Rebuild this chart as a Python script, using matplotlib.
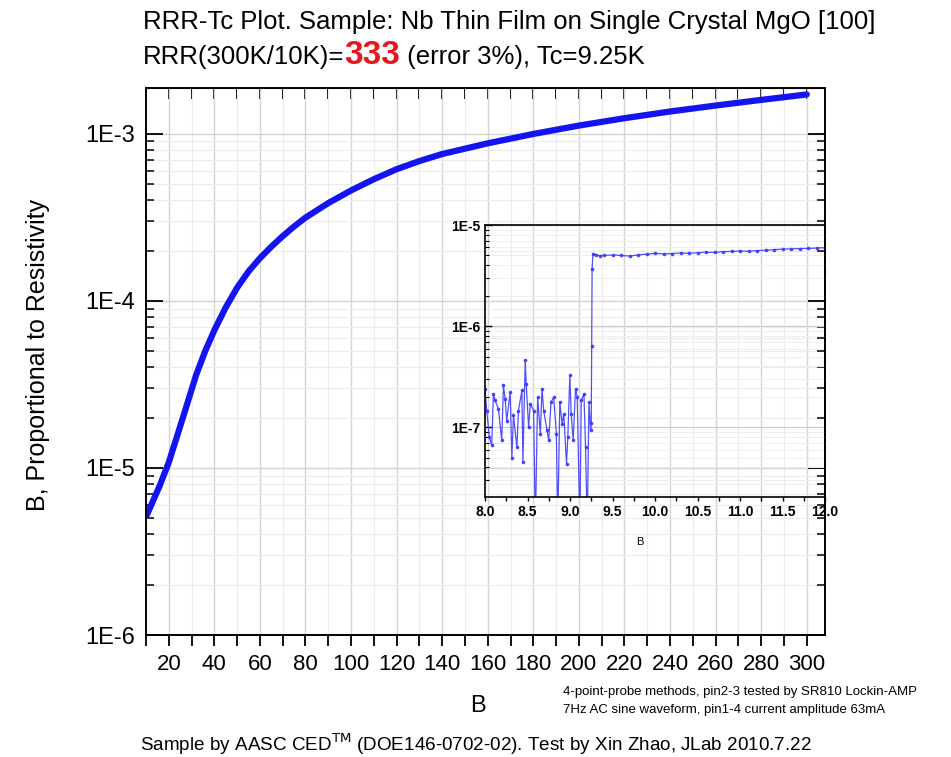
import matplotlib
matplotlib.use("Agg")
import math
import matplotlib.pyplot as plt
from matplotlib.ticker import LogLocator, MultipleLocator, FuncFormatter, NullFormatter

plt.rcParams['font.family'] = ['Liberation Sans', 'DejaVu Sans']

# main curve: temperature (K) vs signal
temp_main = [10.3, 15.9, 20, 26, 32, 36, 40, 45, 50, 55, 60, 65, 70, 75, 80, 90, 100,
             110, 120, 130, 140, 160, 180, 200, 220, 240, 260, 280, 300]
rho_main = [5.2e-6, 7.76e-6, 1.08e-5, 1.96e-5, 3.6e-5, 5.01e-5, 6.67e-5, 9.14e-5,
            1.2e-4, 1.5e-4, 1.8e-4, 2.11e-4, 2.44e-4, 2.79e-4, 3.15e-4, 3.85e-4,
            4.58e-4, 5.35e-4, 6.14e-4, 6.87e-4, 7.57e-4, 8.77e-4, 9.98e-4, 1.12e-3,
            1.24e-3, 1.36e-3, 1.476e-3, 1.596e-3, 1.72e-3]
x_ticks = [20, 40, 60, 80, 100, 120, 140, 160, 180, 200, 220, 240, 260, 280, 300]

# inset: transition region
temp_ins = [8.000, 8.020, 8.051, 8.079, 8.099, 8.118, 8.158, 8.197, 8.217, 8.237,
            8.256, 8.296, 8.316, 8.335, 8.375, 8.394, 8.434, 8.446, 8.473, 8.485,
            8.513, 8.533, 8.572, 8.592, 8.619, 8.651, 8.671, 8.690, 8.730, 8.749,
            8.777, 8.808, 8.840, 8.856, 8.880, 8.907, 8.927, 8.959, 8.974, 8.998,
            9.014, 9.037, 9.065, 9.085, 9.116, 9.132, 9.164, 9.183, 9.203, 9.223,
            9.243, 9.250, 9.255, 9.260, 9.270, 9.30, 9.35, 9.40, 9.50, 9.60,
            9.70, 9.80, 9.90, 10.0, 10.1, 10.2, 10.3, 10.4, 10.5, 10.6,
            10.7, 10.8, 10.9, 11.0, 11.1, 11.2, 11.3, 11.4, 11.5, 11.6,
            11.7, 11.8, 11.9, 12.0]
rho_ins = [2.40e-7, 1.46e-7, 7.96e-8, 6.6e-8, 2.14e-7, 1.84e-7, 1.52e-7, 7.4e-8, 2.59e-7, 1.91e-7,
           1.16e-7, 2.22e-7, 5.0e-8, 1.31e-7, 6.3e-8, 1.46e-7, 2.31e-7, 4.5e-8, 4.57e-7, 2.69e-7,
           1.0e-7, 1.71e-7, 1.46e-7, 1.0e-8, 1.98e-7, 8.6e-8, 2.40e-7, 1.46e-7, 9.3e-8, 7.4e-8,
           1.77e-7, 1.98e-7, 8.6e-8, 1.0e-8, 1.77e-7, 1.08e-7, 1.36e-7, 4.3e-8, 7.96e-8, 3.25e-7,
           1.36e-7, 7.4e-8, 2.40e-7, 1.98e-7, 1.0e-8, 1.84e-7, 2.14e-7, 6.3e-8, 1.0e-8, 1.77e-7,
           9.3e-8, 1.1e-7, 6.3e-7, 3.7e-6, 5.2e-6, 5.1e-6, 4.97e-6, 5.0e-6, 5.05e-6, 5.0e-6,
           4.93e-6, 5.05e-6, 5.15e-6, 5.24e-6, 5.18e-6, 5.22e-6, 5.28e-6, 5.25e-6, 5.32e-6, 5.38e-6,
           5.35e-6, 5.45e-6, 5.48e-6, 5.53e-6, 5.5e-6, 5.58e-6, 5.62e-6, 5.7e-6, 5.78e-6, 5.8e-6,
           5.85e-6, 5.86e-6, 5.92e-6, 5.96e-6]

W, H = 951, 757
fig = plt.figure(figsize=(W / 100, H / 100), dpi=100)


def box(l, t, r, b):
    return [l / W, 1 - b / H, (r - l) / W, (b - t) / H]


def sci(v, pos):
    return "1E%d" % round(math.log10(v))


ax = fig.add_axes(box(146, 88, 825, 635))
ax.plot(temp_main, rho_main, color='#1414f0', lw=4.5, solid_capstyle='round',
        solid_joinstyle='round')
ax.set_yscale('log')
ax.set_xlim(10, 308)
ax.set_ylim(1e-6, 1.88e-3)
ax.set_xticks(x_ticks)
ax.xaxis.set_minor_locator(MultipleLocator(10))
ax.yaxis.set_major_locator(LogLocator(base=10))
ax.yaxis.set_minor_locator(LogLocator(base=10, subs=range(2, 10)))
ax.yaxis.set_major_formatter(FuncFormatter(sci))
ax.yaxis.set_minor_formatter(NullFormatter())
ax.tick_params(axis='x', which='both', direction='out', length=8, width=1.3,
               labelsize=16, pad=6)
ax.tick_params(axis='y', which='major', direction='in', length=12, width=1.3,
               right=True, labelsize=17, pad=8)
ax.tick_params(axis='y', which='minor', direction='in', length=6, width=1.1, right=True)
ax.grid(True, which='major', color='#d4d4d4', lw=1.0)
ax.grid(True, which='minor', color='#ececec', lw=0.8)
for s in ax.spines.values():
    s.set_linewidth(1.4)
top = ax.secondary_xaxis('top')
top.set_xticks(x_ticks)
top.xaxis.set_minor_locator(MultipleLocator(10))
top.tick_params(which='both', direction='in', length=8, width=1.3, labeltop=False)
ax.set_xlabel("B", fontsize=17)
ax.xaxis.set_label_coords((478 - 146) / 679, (635 - 695) / 547)
ax.set_ylabel("B, Proportional to Resistivity", fontsize=18)
ax.yaxis.set_label_coords((50 - 146) / 679, (635 - 355) / 547)

# inset
ins = fig.add_axes(box(485, 225, 825, 497))
ins.set_facecolor('none')
ins.plot(temp_ins, rho_ins, color='#3c3cff', lw=0.9, marker='o', ms=1.6, alpha=0.9)
ins.set_yscale('log')
ins.set_xlim(8.0, 12.0)
ins.set_ylim(2.04e-8, 1e-5)
ins.xaxis.set_major_locator(MultipleLocator(0.5))
ins.xaxis.set_minor_locator(MultipleLocator(0.25))
ins.xaxis.set_major_formatter(FuncFormatter(lambda v, p: "%.1f" % v))
ins.yaxis.set_major_locator(LogLocator(base=10))
ins.yaxis.set_minor_locator(LogLocator(base=10, subs=range(2, 10)))
ins.yaxis.set_major_formatter(FuncFormatter(sci))
ins.yaxis.set_minor_formatter(NullFormatter())
ins.tick_params(axis='x', which='both', direction='out', length=3, width=1.0, pad=3)
ins.tick_params(axis='y', which='major', direction='in', length=5, width=1.0)
ins.tick_params(axis='y', which='minor', direction='in', length=3, width=0.8)
for lab in ins.get_xticklabels() + ins.get_yticklabels():
    lab.set_fontsize(10)
    lab.set_fontweight('bold')
ins.grid(True, which='major', axis='y', color='#cfcfcf', lw=0.9)
ins.grid(True, which='minor', axis='y', color='#eeeeee', lw=0.7)
for s in ins.spines.values():
    s.set_linewidth(1.2)
ins.set_xlabel("B", fontsize=8)
ins.xaxis.set_label_coords((640 - 485) / 340, (497 - 537) / 272)

# titles
fig.text(143 / W, 1 - 22 / H, "RRR-Tc Plot. Sample: Nb Thin Film on Single Crystal MgO [100]",
         fontsize=18.5, ha='left', va='center')
yb = 1 - 64 / H
t1 = fig.text(143 / W, yb, "RRR(300K/10K)=", fontsize=18.5, ha='left', va='baseline')
fig.canvas.draw()
r = fig.canvas.get_renderer()
x2 = t1.get_window_extent(r).x1 / W
t2 = fig.text(x2, yb, "333", fontsize=24, color='#e8141e', fontweight='bold',
              ha='left', va='baseline')
x3 = t2.get_window_extent(r).x1 / W
fig.text(x3, yb, " (error 3%), Tc=9.25K", fontsize=18.5, ha='left', va='baseline')

notes = ["4-point-probe methods, pin2-3 tested by SR810 Lockin-AMP",
         "7Hz AC sine waveform, pin1-4 current amplitude 63mA"]
fig.text(563 / W, 1 - 692 / H, notes[0], fontsize=9.5, va='center')
fig.text(563 / W, 1 - 710 / H, notes[1], fontsize=9.5, va='center')
fig.text(476 / W, 1 - 751 / H,
         r"Sample by AASC CED$^{\rm TM}$ (DOE146-0702-02). Test by Xin Zhao, JLab 2010.7.22",
         fontsize=13.6, ha='center', va='baseline')

fig.savefig("out.png", dpi=100)
